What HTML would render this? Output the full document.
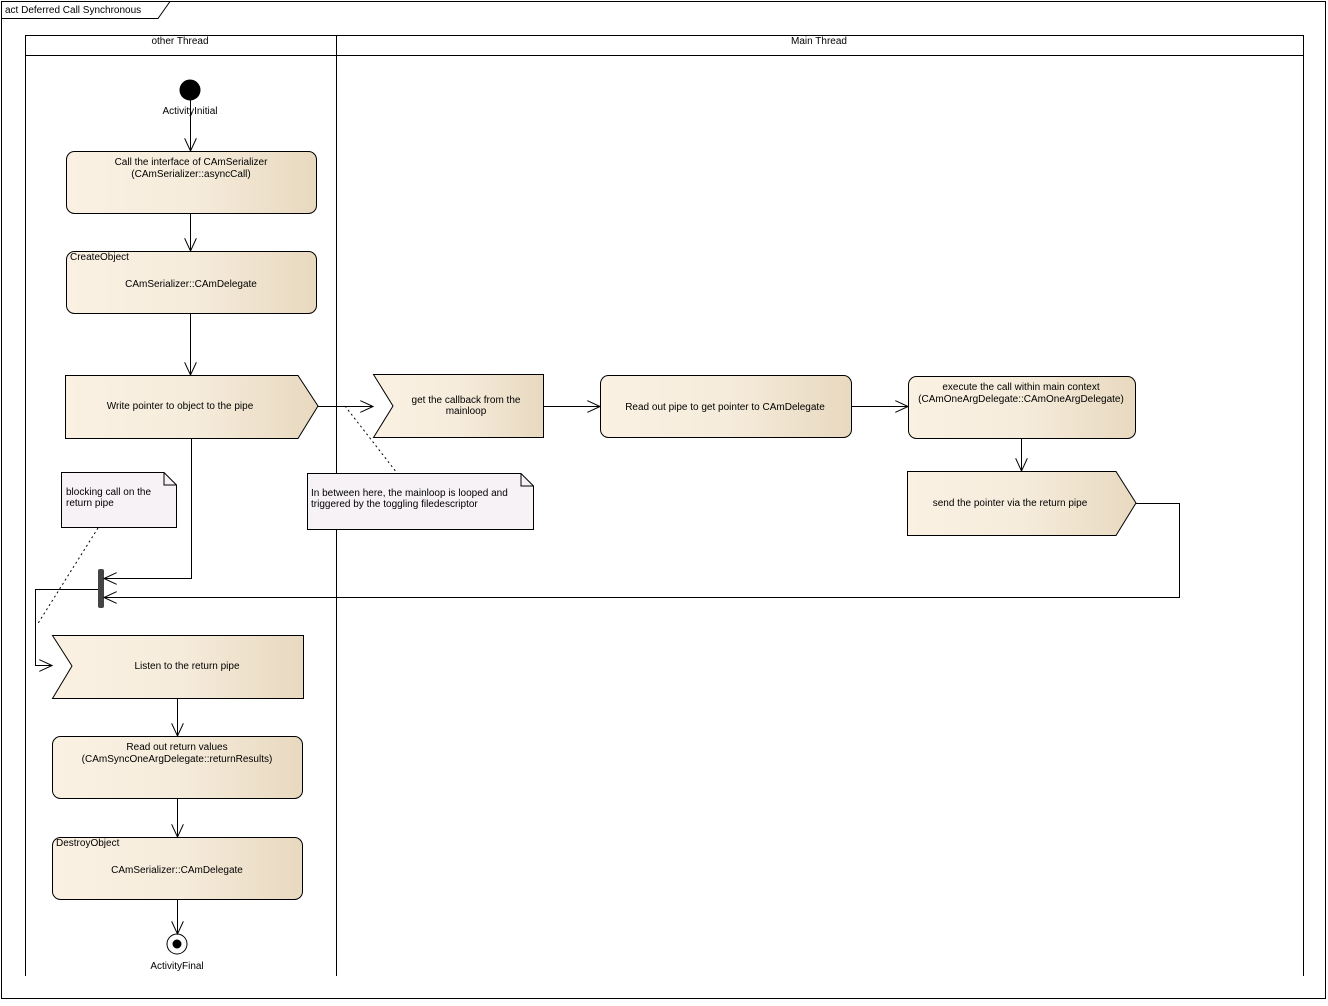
<!DOCTYPE html>
<html><head><style>
body{margin:0;background:#fff}
svg text{font-family:"Liberation Sans",sans-serif;font-size:10px;fill:#000}
</style></head><body>
<svg width="1328" height="1001" xmlns="http://www.w3.org/2000/svg">
<defs>
<linearGradient id="g" x1="0" x2="1" y1="0" y2="0"><stop offset="0" stop-color="#faf1e3"/><stop offset="0.5" stop-color="#f6ecdc"/><stop offset="1" stop-color="#e8d9bf"/></linearGradient>
<marker id="a" markerWidth="14" markerHeight="12" refX="13" refY="6" orient="auto" markerUnits="userSpaceOnUse"><path d="M0,0 L13,6 L0,12" fill="none" stroke="#000"/></marker>
</defs>
<rect x="1.5" y="1.5" width="1324" height="997" fill="none" stroke="#000"/>
<path d="M1.5,18.5 H158 L170,1.5" fill="none" stroke="#000"/>
<text x="5" y="13">act Deferred Call Synchronous</text>
<g stroke="#000" fill="none">
<rect x="25.5" y="35.5" width="1278" height="20"/>
<line x1="25.5" y1="55" x2="25.5" y2="976"/>
<line x1="336.5" y1="35" x2="336.5" y2="976"/>
<line x1="1303.5" y1="55" x2="1303.5" y2="976"/>
</g>
<text x="180" y="44" text-anchor="middle">other Thread</text>
<text x="819" y="44" text-anchor="middle">Main Thread</text>
<g stroke="#000" fill="url(#g)">
<circle cx="190" cy="90" r="10" fill="#000"/>
<rect x="66.5" y="151.5" width="250" height="62" rx="8"/>
<rect x="66.5" y="251.5" width="250" height="62" rx="8"/>
<path d="M65.5,375.5 H298 L318,406 L298,438.5 H65.5Z"/>
<path d="M373.5,374.5 H543.5 V437.5 H373.5 L393,406Z"/>
<rect x="600.5" y="375.5" width="251" height="62" rx="8"/>
<rect x="908.5" y="376.5" width="227" height="62" rx="8"/>
<path d="M907.5,471.5 H1116 L1136,503 L1116,535.5 H907.5Z"/>
<path d="M52.5,635.5 H303.5 V698.5 H52.5 L72,666Z"/>
<rect x="52.5" y="736.5" width="250" height="62" rx="8"/>
<rect x="52.5" y="837.5" width="250" height="62" rx="8"/>
<circle cx="177" cy="944" r="10" fill="#fff"/>
<circle cx="177" cy="944" r="4" fill="#000"/>
<path d="M307.5,473.5 H521 L533.5,486 V529.5 H307.5Z" fill="#f6f2f6"/>
<path d="M521,473.5 V486 H533.5" fill="none"/>
<path d="M61.5,472.5 H164 L176.5,485 V527.5 H61.5Z" fill="#f6f2f6"/>
<path d="M164,472.5 V485 H176.5" fill="none"/>
</g>
<rect x="98" y="569" width="6" height="39" rx="2" fill="#444"/>
<g stroke="#000" fill="none" marker-end="url(#a)">
<line x1="190.5" y1="100" x2="190.5" y2="151"/>
<line x1="190.5" y1="214" x2="190.5" y2="251"/>
<line x1="190.5" y1="314" x2="190.5" y2="375"/>
<line x1="318" y1="406.5" x2="373" y2="406.5"/>
<line x1="543" y1="406.5" x2="600" y2="406.5"/>
<line x1="851" y1="406.5" x2="908" y2="406.5"/>
<line x1="1021.5" y1="439" x2="1021.5" y2="471"/>
<path d="M1136,503.5 H1179.5 V597.5 H104"/>
<path d="M191.5,438 V578.5 H104"/>
<path d="M98,589.5 H35.5 V665.5 H52"/>
<line x1="177.5" y1="698" x2="177.5" y2="736"/>
<line x1="177.5" y1="799" x2="177.5" y2="837"/>
<line x1="177.5" y1="900" x2="177.5" y2="934"/>
</g>
<g stroke="#000" stroke-dasharray="2,3" fill="none">
<line x1="345" y1="406" x2="397" y2="473"/>
<line x1="98" y1="528" x2="37" y2="625"/>
</g>
<g text-anchor="middle">
<text x="190" y="114">ActivityInitial</text>
<text x="191" y="165">Call the interface of CAmSerializer</text>
<text x="191" y="177">(CAmSerializer::asyncCall)</text>
<text x="191" y="287">CAmSerializer::CAmDelegate</text>
<text x="180" y="409">Write pointer to object to the pipe</text>
<text x="466" y="403">get the callback from the</text>
<text x="466" y="414">mainloop</text>
<text x="725" y="410">Read out pipe to get pointer to CAmDelegate</text>
<text x="1021" y="390">execute the call within main context</text>
<text x="1021" y="402">(CAmOneArgDelegate::CAmOneArgDelegate)</text>
<text x="1010" y="506">send the pointer via the return pipe</text>
<text x="187" y="669">Listen to the return pipe</text>
<text x="177" y="750">Read out return values</text>
<text x="177" y="762">(CAmSyncOneArgDelegate::returnResults)</text>
<text x="177" y="873">CAmSerializer::CAmDelegate</text>
<text x="177" y="969">ActivityFinal</text>
</g>
<text x="70" y="260">CreateObject</text>
<text x="56" y="846">DestroyObject</text>
<text x="311" y="496">In between here, the mainloop is looped and</text>
<text x="311" y="507">triggered by the toggling filedescriptor</text>
<text x="66" y="495">blocking call on the</text>
<text x="66" y="506">return pipe</text>
</svg>
</body></html>
